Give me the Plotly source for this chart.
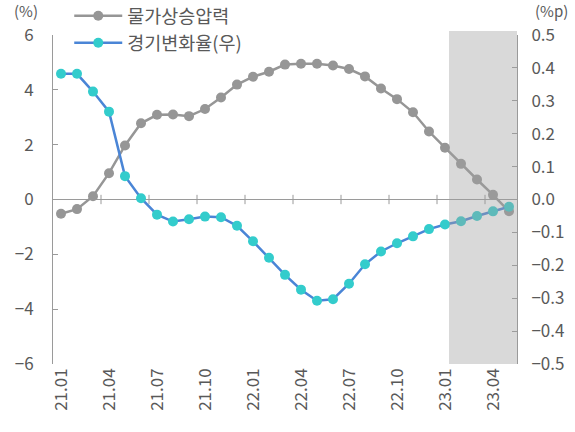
import plotly.graph_objects as go

months = ["21.01","21.02","21.03","21.04","21.05","21.06","21.07","21.08","21.09","21.10","21.11","21.12",
          "22.01","22.02","22.03","22.04","22.05","22.06","22.07","22.08","22.09","22.10","22.11","22.12",
          "23.01","23.02","23.03","23.04","23.05"]
price_pressure = [-0.52,-0.35,0.12,0.96,1.97,2.78,3.09,3.10,3.04,3.30,3.72,4.19,4.48,4.66,4.92,4.95,
                  4.95,4.89,4.76,4.49,4.05,3.66,3.18,2.48,1.89,1.30,0.73,0.17,-0.43]
business_change = [0.382,0.382,0.328,0.267,0.071,0.004,-0.046,-0.067,-0.060,-0.052,-0.054,-0.080,
                   -0.127,-0.177,-0.229,-0.274,-0.308,-0.303,-0.256,-0.197,-0.158,-0.133,-0.112,
                   -0.090,-0.076,-0.066,-0.050,-0.036,-0.022]
left_ticks = [-6,-4,-2,0,2,4,6]
right_ticks = [-0.5,-0.4,-0.3,-0.2,-0.1,0.0,0.1,0.2,0.3,0.4,0.5]
label_step = 3
shade_start = "23.01"

FONT = "Noto Sans CJK KR"
TXT = "#595959"
AX = "#9a9a9a"

xs = list(range(len(months)))
fig = go.Figure()
fig.add_trace(go.Scatter(x=xs, y=price_pressure, name="물가상승압력", mode="lines+markers",
                         line=dict(color="#969696", width=2.5),
                         marker=dict(color="#969696", size=10)))
fig.add_trace(go.Scatter(x=xs, y=business_change, name="경기변화율(우)", mode="lines+markers",
                         yaxis="y2",
                         line=dict(color="#4a85d6", width=2.5),
                         marker=dict(color="#33cccc", size=10)))

# shaded forecast area
s = months.index(shade_start)
fig.add_shape(type="rect", xref="x", yref="paper", x0=s + 0.25, x1=len(months) - 0.5,
              y0=0, y1=1.012, fillcolor="rgba(160,160,160,0.4)", line_width=0, layer="above")

# x tick marks crossing the zero line
for i in range(label_step - 1, len(months) - 1, label_step):
    fig.add_shape(type="line", xref="x", yref="y", x0=i + 0.5, x1=i + 0.5, y0=-0.17, y1=0.17,
                  line=dict(color=AX, width=1))

fig.update_layout(
    width=575, height=432,
    margin=dict(l=53, r=58, t=35, b=68, autoexpand=False),
    plot_bgcolor="white", paper_bgcolor="white",
    font=dict(family=FONT, size=17, color=TXT),
    showlegend=True,
    legend=dict(x=0.035, y=1.115, xanchor="left", yanchor="top", bgcolor="rgba(0,0,0,0)",
                font=dict(size=18.5, color=TXT), tracegroupgap=0, itemwidth=48),
    xaxis=dict(range=[-0.5, len(months) - 0.5], tickvals=xs[::label_step],
               ticktext=months[::label_step], tickangle=-90, showline=False, ticks="",
               showgrid=False, zeroline=False, tickfont=dict(size=17, color=TXT)),
    yaxis=dict(range=[-6, 6], tickvals=left_ticks, showgrid=False, zeroline=True,
               zerolinecolor=AX, zerolinewidth=1, showline=True, linecolor=AX,
               ticks="inside", ticklen=5, tickcolor=AX, ticklabelstandoff=15),
    yaxis2=dict(range=[-0.5, 0.5], tickvals=right_ticks, tickformat=".1f", overlaying="y",
                side="right", showgrid=False, zeroline=False, showline=True, linecolor=AX,
                ticks="inside", ticklen=5, tickcolor=AX, ticklabelstandoff=10),
    annotations=[
        dict(text="(%)", xref="paper", yref="paper", x=-0.058, y=1.0, yshift=25,
             xanchor="center", yanchor="middle", showarrow=False, font=dict(size=15, color=TXT)),
        dict(text="(%p)", xref="paper", yref="paper", x=1.075, y=1.0, yshift=25,
             xanchor="center", yanchor="middle", showarrow=False, font=dict(size=15, color=TXT)),
    ],
)

fig.write_html("out.html")
